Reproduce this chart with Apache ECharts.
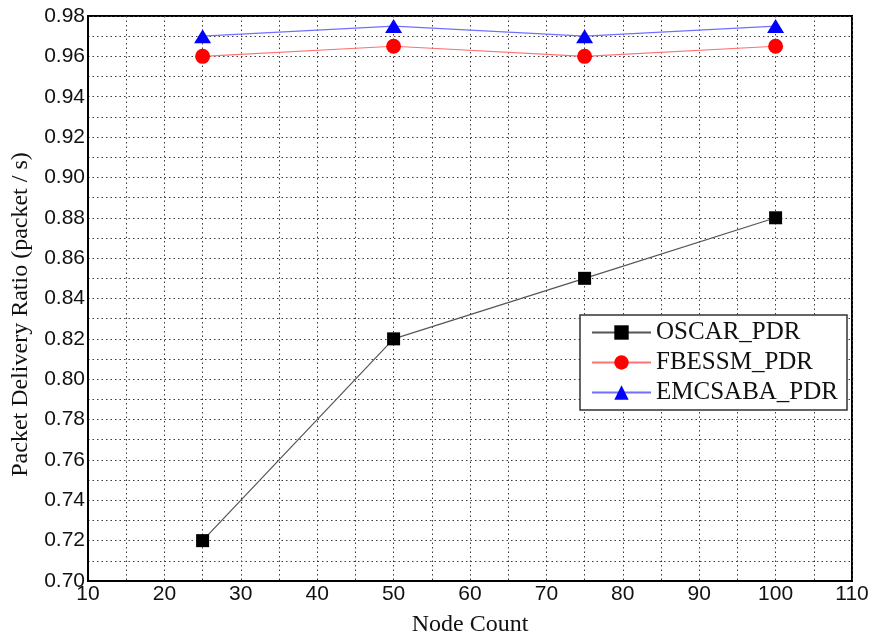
<!DOCTYPE html>
<html>
<head>
<meta charset="utf-8">
<script src="https://cdn.jsdelivr.net/npm/echarts@6/dist/echarts.min.js"></script>
<style>
  html, body { margin: 0; padding: 0; background: #fff; }
  #chart { width: 877px; height: 642px; }
</style>
</head>
<body>
<div id="chart"></div>
<script>
// Node counts on the x axis
const nodeCounts = [25, 50, 75, 100];
// Packet delivery ratio per protocol
const oscarPdr = [0.72, 0.82, 0.85, 0.88];
const fbessmPdr = [0.96, 0.965, 0.96, 0.965];
const emcsabaPdr = [0.97, 0.975, 0.97, 0.975];
const seriesNames = ['OSCAR_PDR', 'FBESSM_PDR', 'EMCSABA_PDR'];

const pairs = (ys) => nodeCounts.map((x, i) => [x, ys[i]]);

const serif = '"Liberation Serif", "Times New Roman", serif';
const sans = '"Liberation Sans", Arial, sans-serif';
const dotted = { color: '#3a3a3a', width: 1, type: [1.5, 3] };

const chart = echarts.init(document.getElementById('chart'), null, { renderer: 'canvas' });
chart.setOption({
  animation: false,
  backgroundColor: '#fff',
  grid: {
    left: 88, right: 25, top: 16, bottom: 58,
    show: true, borderColor: '#000', borderWidth: 2, backgroundColor: 'transparent'
  },
  legend: {
    orient: 'vertical',
    left: 580, top: 315,
    backgroundColor: '#fff',
    borderColor: '#333', borderWidth: 1.5,
    padding: [5, 9, 5, 11],
    itemWidth: 59, itemHeight: 18, itemGap: 5,
    textStyle: { fontFamily: serif, fontSize: 25, color: '#111' },
    data: seriesNames
  },
  xAxis: {
    type: 'value', min: 10, max: 110, interval: 10,
    name: 'Node Count', nameLocation: 'middle', nameGap: 32,
    nameTextStyle: { fontFamily: serif, fontSize: 24, color: '#111' },
    axisLine: { show: true, lineStyle: { color: '#000', width: 2 } },
    axisTick: { show: false },
    axisLabel: { fontFamily: sans, fontSize: 21, color: '#111', margin: 3,
                 showMinLabel: true, showMaxLabel: true },
    splitLine: { show: true, lineStyle: dotted },
    minorTick: { show: false, splitNumber: 2 },
    minorSplitLine: { show: true, lineStyle: dotted }
  },
  yAxis: {
    type: 'value', min: 0.70, max: 0.98, interval: 0.02,
    name: 'Packet Delivery Ratio (packet / s)', nameLocation: 'middle', nameGap: 55,
    nameTextStyle: { fontFamily: serif, fontSize: 24, color: '#111', padding: [0, 32, 0, 0] },
    axisLine: { show: true, lineStyle: { color: '#000', width: 2 } },
    axisTick: { show: false },
    axisLabel: { fontFamily: sans, fontSize: 21, color: '#111', margin: 3,
                 showMinLabel: true, showMaxLabel: true,
                 formatter: (v) => v.toFixed(2) },
    splitLine: { show: true, lineStyle: dotted },
    minorTick: { show: false, splitNumber: 2 },
    minorSplitLine: { show: true, lineStyle: dotted }
  },
  series: [
    {
      name: seriesNames[0], type: 'line', data: pairs(oscarPdr),
      symbol: 'rect', symbolSize: 13,
      lineStyle: { color: '#555', width: 1.2 },
      itemStyle: { color: '#000' }
    },
    {
      name: seriesNames[1], type: 'line', data: pairs(fbessmPdr),
      symbol: 'circle', symbolSize: 15,
      lineStyle: { color: '#ff7373', width: 1.2 },
      itemStyle: { color: '#ff0000' }
    },
    {
      name: seriesNames[2], type: 'line', data: pairs(emcsabaPdr),
      symbol: 'triangle', symbolSize: [17, 14],
      lineStyle: { color: '#7070ff', width: 1.2 },
      itemStyle: { color: '#0000ff' }
    }
  ]
});
</script>
</body>
</html>
